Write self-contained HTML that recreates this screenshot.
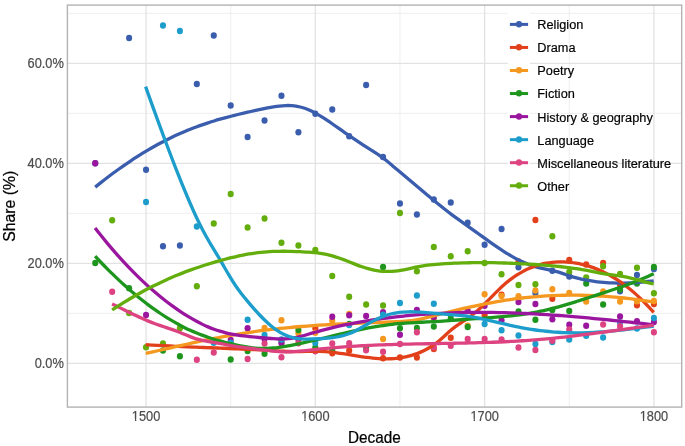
<!DOCTYPE html>
<html><head><meta charset="utf-8"><style>
html,body{margin:0;padding:0;background:#fff;}
svg{display:block;font-family:"Liberation Sans",sans-serif;will-change:transform;}
</style></head><body>
<svg width="685" height="446" viewBox="0 0 685 446">
<rect width="685" height="446" fill="#fff"/>
<line x1="67.4" x2="681.7" y1="313.30" y2="313.30" stroke="#ECECEC" stroke-width="0.9"/>
<line x1="67.4" x2="681.7" y1="213.30" y2="213.30" stroke="#ECECEC" stroke-width="0.9"/>
<line x1="67.4" x2="681.7" y1="113.30" y2="113.30" stroke="#ECECEC" stroke-width="0.9"/>
<line x1="67.4" x2="681.7" y1="13.30" y2="13.30" stroke="#ECECEC" stroke-width="0.9"/>
<line x1="230.69" x2="230.69" y1="5.1" y2="407.1" stroke="#ECECEC" stroke-width="0.9"/>
<line x1="399.98" x2="399.98" y1="5.1" y2="407.1" stroke="#ECECEC" stroke-width="0.9"/>
<line x1="569.26" x2="569.26" y1="5.1" y2="407.1" stroke="#ECECEC" stroke-width="0.9"/>
<line x1="67.4" x2="681.7" y1="363.30" y2="363.30" stroke="#E2E2E2" stroke-width="1.25"/>
<line x1="67.4" x2="681.7" y1="263.30" y2="263.30" stroke="#E2E2E2" stroke-width="1.25"/>
<line x1="67.4" x2="681.7" y1="163.30" y2="163.30" stroke="#E2E2E2" stroke-width="1.25"/>
<line x1="67.4" x2="681.7" y1="63.30" y2="63.30" stroke="#E2E2E2" stroke-width="1.25"/>
<line x1="146.04" x2="146.04" y1="5.1" y2="407.1" stroke="#E2E2E2" stroke-width="1.25"/>
<line x1="315.33" x2="315.33" y1="5.1" y2="407.1" stroke="#E2E2E2" stroke-width="1.25"/>
<line x1="484.62" x2="484.62" y1="5.1" y2="407.1" stroke="#E2E2E2" stroke-width="1.25"/>
<line x1="653.91" x2="653.91" y1="5.1" y2="407.1" stroke="#E2E2E2" stroke-width="1.25"/>
<ellipse cx="95.25" cy="163.3" rx="3.05" ry="3.25" fill="#3A5DAE"/>
<ellipse cx="129.11" cy="38.1" rx="3.05" ry="3.25" fill="#3A5DAE"/>
<ellipse cx="146.04" cy="169.7" rx="3.05" ry="3.25" fill="#3A5DAE"/>
<ellipse cx="162.97" cy="246.3" rx="3.05" ry="3.25" fill="#3A5DAE"/>
<ellipse cx="179.90" cy="245.6" rx="3.05" ry="3.25" fill="#3A5DAE"/>
<ellipse cx="196.83" cy="83.9" rx="3.05" ry="3.25" fill="#3A5DAE"/>
<ellipse cx="213.76" cy="35.4" rx="3.05" ry="3.25" fill="#3A5DAE"/>
<ellipse cx="230.69" cy="105.5" rx="3.05" ry="3.25" fill="#3A5DAE"/>
<ellipse cx="247.61" cy="137.1" rx="3.05" ry="3.25" fill="#3A5DAE"/>
<ellipse cx="264.54" cy="120.5" rx="3.05" ry="3.25" fill="#3A5DAE"/>
<ellipse cx="281.47" cy="95.7" rx="3.05" ry="3.25" fill="#3A5DAE"/>
<ellipse cx="298.40" cy="132.3" rx="3.05" ry="3.25" fill="#3A5DAE"/>
<ellipse cx="315.33" cy="113.8" rx="3.05" ry="3.25" fill="#3A5DAE"/>
<ellipse cx="332.26" cy="109.4" rx="3.05" ry="3.25" fill="#3A5DAE"/>
<ellipse cx="349.19" cy="136.3" rx="3.05" ry="3.25" fill="#3A5DAE"/>
<ellipse cx="366.12" cy="84.9" rx="3.05" ry="3.25" fill="#3A5DAE"/>
<ellipse cx="383.05" cy="157.0" rx="3.05" ry="3.25" fill="#3A5DAE"/>
<ellipse cx="399.98" cy="203.6" rx="3.05" ry="3.25" fill="#3A5DAE"/>
<ellipse cx="416.90" cy="214.4" rx="3.05" ry="3.25" fill="#3A5DAE"/>
<ellipse cx="433.83" cy="199.6" rx="3.05" ry="3.25" fill="#3A5DAE"/>
<ellipse cx="450.76" cy="202.6" rx="3.05" ry="3.25" fill="#3A5DAE"/>
<ellipse cx="467.69" cy="222.7" rx="3.05" ry="3.25" fill="#3A5DAE"/>
<ellipse cx="484.62" cy="244.7" rx="3.05" ry="3.25" fill="#3A5DAE"/>
<ellipse cx="501.55" cy="229.0" rx="3.05" ry="3.25" fill="#3A5DAE"/>
<ellipse cx="518.48" cy="267.2" rx="3.05" ry="3.25" fill="#3A5DAE"/>
<ellipse cx="535.41" cy="293.0" rx="3.05" ry="3.25" fill="#3A5DAE"/>
<ellipse cx="552.34" cy="270.8" rx="3.05" ry="3.25" fill="#3A5DAE"/>
<ellipse cx="569.26" cy="276.6" rx="3.05" ry="3.25" fill="#3A5DAE"/>
<ellipse cx="620.05" cy="291.3" rx="3.05" ry="3.25" fill="#3A5DAE"/>
<ellipse cx="636.98" cy="274.9" rx="3.05" ry="3.25" fill="#3A5DAE"/>
<ellipse cx="653.91" cy="269.1" rx="3.05" ry="3.25" fill="#3A5DAE"/>
<ellipse cx="315.33" cy="328.3" rx="3.05" ry="3.25" fill="#E2401A"/>
<ellipse cx="332.26" cy="353.3" rx="3.05" ry="3.25" fill="#E2401A"/>
<ellipse cx="349.19" cy="350.6" rx="3.05" ry="3.25" fill="#E2401A"/>
<ellipse cx="383.05" cy="358.2" rx="3.05" ry="3.25" fill="#E2401A"/>
<ellipse cx="399.98" cy="357.4" rx="3.05" ry="3.25" fill="#E2401A"/>
<ellipse cx="416.90" cy="357.6" rx="3.05" ry="3.25" fill="#E2401A"/>
<ellipse cx="433.83" cy="349.1" rx="3.05" ry="3.25" fill="#E2401A"/>
<ellipse cx="450.76" cy="337.8" rx="3.05" ry="3.25" fill="#E2401A"/>
<ellipse cx="484.62" cy="315.0" rx="3.05" ry="3.25" fill="#E2401A"/>
<ellipse cx="501.55" cy="294.7" rx="3.05" ry="3.25" fill="#E2401A"/>
<ellipse cx="518.48" cy="261.5" rx="3.05" ry="3.25" fill="#E2401A"/>
<ellipse cx="535.41" cy="220.0" rx="3.05" ry="3.25" fill="#E2401A"/>
<ellipse cx="552.34" cy="298.7" rx="3.05" ry="3.25" fill="#E2401A"/>
<ellipse cx="569.26" cy="260.0" rx="3.05" ry="3.25" fill="#E2401A"/>
<ellipse cx="586.19" cy="264.6" rx="3.05" ry="3.25" fill="#E2401A"/>
<ellipse cx="603.12" cy="262.9" rx="3.05" ry="3.25" fill="#E2401A"/>
<ellipse cx="620.05" cy="285.1" rx="3.05" ry="3.25" fill="#E2401A"/>
<ellipse cx="636.98" cy="305.3" rx="3.05" ry="3.25" fill="#E2401A"/>
<ellipse cx="653.91" cy="304.1" rx="3.05" ry="3.25" fill="#E2401A"/>
<ellipse cx="264.54" cy="328.0" rx="3.05" ry="3.25" fill="#F4981F"/>
<ellipse cx="281.47" cy="320.3" rx="3.05" ry="3.25" fill="#F4981F"/>
<ellipse cx="298.40" cy="333.3" rx="3.05" ry="3.25" fill="#F4981F"/>
<ellipse cx="315.33" cy="332.8" rx="3.05" ry="3.25" fill="#F4981F"/>
<ellipse cx="332.26" cy="320.8" rx="3.05" ry="3.25" fill="#F4981F"/>
<ellipse cx="349.19" cy="313.9" rx="3.05" ry="3.25" fill="#F4981F"/>
<ellipse cx="383.05" cy="339.0" rx="3.05" ry="3.25" fill="#F4981F"/>
<ellipse cx="433.83" cy="318.6" rx="3.05" ry="3.25" fill="#F4981F"/>
<ellipse cx="467.69" cy="325.8" rx="3.05" ry="3.25" fill="#F4981F"/>
<ellipse cx="484.62" cy="294.3" rx="3.05" ry="3.25" fill="#F4981F"/>
<ellipse cx="501.55" cy="296.1" rx="3.05" ry="3.25" fill="#F4981F"/>
<ellipse cx="518.48" cy="296.3" rx="3.05" ry="3.25" fill="#F4981F"/>
<ellipse cx="535.41" cy="290.5" rx="3.05" ry="3.25" fill="#F4981F"/>
<ellipse cx="552.34" cy="289.3" rx="3.05" ry="3.25" fill="#F4981F"/>
<ellipse cx="569.26" cy="292.9" rx="3.05" ry="3.25" fill="#F4981F"/>
<ellipse cx="586.19" cy="301.4" rx="3.05" ry="3.25" fill="#F4981F"/>
<ellipse cx="603.12" cy="291.6" rx="3.05" ry="3.25" fill="#F4981F"/>
<ellipse cx="620.05" cy="301.6" rx="3.05" ry="3.25" fill="#F4981F"/>
<ellipse cx="636.98" cy="301.2" rx="3.05" ry="3.25" fill="#F4981F"/>
<ellipse cx="653.91" cy="300.9" rx="3.05" ry="3.25" fill="#F4981F"/>
<ellipse cx="95.25" cy="263.1" rx="3.05" ry="3.25" fill="#1E961E"/>
<ellipse cx="129.11" cy="288.3" rx="3.05" ry="3.25" fill="#1E961E"/>
<ellipse cx="162.97" cy="350.4" rx="3.05" ry="3.25" fill="#1E961E"/>
<ellipse cx="179.90" cy="356.2" rx="3.05" ry="3.25" fill="#1E961E"/>
<ellipse cx="230.69" cy="359.5" rx="3.05" ry="3.25" fill="#1E961E"/>
<ellipse cx="247.61" cy="351.0" rx="3.05" ry="3.25" fill="#1E961E"/>
<ellipse cx="264.54" cy="353.7" rx="3.05" ry="3.25" fill="#1E961E"/>
<ellipse cx="281.47" cy="341.5" rx="3.05" ry="3.25" fill="#1E961E"/>
<ellipse cx="298.40" cy="329.9" rx="3.05" ry="3.25" fill="#1E961E"/>
<ellipse cx="315.33" cy="347.5" rx="3.05" ry="3.25" fill="#1E961E"/>
<ellipse cx="332.26" cy="350.0" rx="3.05" ry="3.25" fill="#1E961E"/>
<ellipse cx="349.19" cy="323.9" rx="3.05" ry="3.25" fill="#1E961E"/>
<ellipse cx="366.12" cy="347.8" rx="3.05" ry="3.25" fill="#1E961E"/>
<ellipse cx="383.05" cy="267.0" rx="3.05" ry="3.25" fill="#1E961E"/>
<ellipse cx="399.98" cy="328.3" rx="3.05" ry="3.25" fill="#1E961E"/>
<ellipse cx="416.90" cy="327.9" rx="3.05" ry="3.25" fill="#1E961E"/>
<ellipse cx="433.83" cy="326.6" rx="3.05" ry="3.25" fill="#1E961E"/>
<ellipse cx="450.76" cy="318.3" rx="3.05" ry="3.25" fill="#1E961E"/>
<ellipse cx="467.69" cy="327.0" rx="3.05" ry="3.25" fill="#1E961E"/>
<ellipse cx="518.48" cy="311.4" rx="3.05" ry="3.25" fill="#1E961E"/>
<ellipse cx="535.41" cy="319.7" rx="3.05" ry="3.25" fill="#1E961E"/>
<ellipse cx="552.34" cy="309.9" rx="3.05" ry="3.25" fill="#1E961E"/>
<ellipse cx="569.26" cy="310.9" rx="3.05" ry="3.25" fill="#1E961E"/>
<ellipse cx="586.19" cy="283.6" rx="3.05" ry="3.25" fill="#1E961E"/>
<ellipse cx="603.12" cy="304.5" rx="3.05" ry="3.25" fill="#1E961E"/>
<ellipse cx="620.05" cy="289.6" rx="3.05" ry="3.25" fill="#1E961E"/>
<ellipse cx="636.98" cy="283.6" rx="3.05" ry="3.25" fill="#1E961E"/>
<ellipse cx="653.91" cy="267.0" rx="3.05" ry="3.25" fill="#1E961E"/>
<ellipse cx="95.25" cy="163.3" rx="3.05" ry="3.25" fill="#9A169E"/>
<ellipse cx="146.04" cy="314.9" rx="3.05" ry="3.25" fill="#9A169E"/>
<ellipse cx="230.69" cy="339.9" rx="3.05" ry="3.25" fill="#9A169E"/>
<ellipse cx="247.61" cy="328.3" rx="3.05" ry="3.25" fill="#9A169E"/>
<ellipse cx="264.54" cy="339.1" rx="3.05" ry="3.25" fill="#9A169E"/>
<ellipse cx="281.47" cy="343.3" rx="3.05" ry="3.25" fill="#9A169E"/>
<ellipse cx="298.40" cy="339.5" rx="3.05" ry="3.25" fill="#9A169E"/>
<ellipse cx="332.26" cy="316.8" rx="3.05" ry="3.25" fill="#9A169E"/>
<ellipse cx="349.19" cy="315.3" rx="3.05" ry="3.25" fill="#9A169E"/>
<ellipse cx="366.12" cy="316.1" rx="3.05" ry="3.25" fill="#9A169E"/>
<ellipse cx="383.05" cy="312.3" rx="3.05" ry="3.25" fill="#9A169E"/>
<ellipse cx="399.98" cy="334.8" rx="3.05" ry="3.25" fill="#9A169E"/>
<ellipse cx="416.90" cy="309.9" rx="3.05" ry="3.25" fill="#9A169E"/>
<ellipse cx="433.83" cy="317.0" rx="3.05" ry="3.25" fill="#9A169E"/>
<ellipse cx="467.69" cy="310.7" rx="3.05" ry="3.25" fill="#9A169E"/>
<ellipse cx="484.62" cy="305.7" rx="3.05" ry="3.25" fill="#9A169E"/>
<ellipse cx="501.55" cy="320.5" rx="3.05" ry="3.25" fill="#9A169E"/>
<ellipse cx="518.48" cy="301.9" rx="3.05" ry="3.25" fill="#9A169E"/>
<ellipse cx="535.41" cy="304.0" rx="3.05" ry="3.25" fill="#9A169E"/>
<ellipse cx="552.34" cy="319.3" rx="3.05" ry="3.25" fill="#9A169E"/>
<ellipse cx="569.26" cy="324.8" rx="3.05" ry="3.25" fill="#9A169E"/>
<ellipse cx="586.19" cy="325.8" rx="3.05" ry="3.25" fill="#9A169E"/>
<ellipse cx="620.05" cy="316.6" rx="3.05" ry="3.25" fill="#9A169E"/>
<ellipse cx="636.98" cy="321.2" rx="3.05" ry="3.25" fill="#9A169E"/>
<ellipse cx="653.91" cy="322.0" rx="3.05" ry="3.25" fill="#9A169E"/>
<ellipse cx="146.04" cy="201.9" rx="3.05" ry="3.25" fill="#1C9DCB"/>
<ellipse cx="162.97" cy="25.6" rx="3.05" ry="3.25" fill="#1C9DCB"/>
<ellipse cx="179.90" cy="31.1" rx="3.05" ry="3.25" fill="#1C9DCB"/>
<ellipse cx="196.83" cy="226.5" rx="3.05" ry="3.25" fill="#1C9DCB"/>
<ellipse cx="213.76" cy="342.8" rx="3.05" ry="3.25" fill="#1C9DCB"/>
<ellipse cx="230.69" cy="342.8" rx="3.05" ry="3.25" fill="#1C9DCB"/>
<ellipse cx="247.61" cy="319.7" rx="3.05" ry="3.25" fill="#1C9DCB"/>
<ellipse cx="264.54" cy="334.9" rx="3.05" ry="3.25" fill="#1C9DCB"/>
<ellipse cx="281.47" cy="339.5" rx="3.05" ry="3.25" fill="#1C9DCB"/>
<ellipse cx="315.33" cy="342.9" rx="3.05" ry="3.25" fill="#1C9DCB"/>
<ellipse cx="349.19" cy="325.0" rx="3.05" ry="3.25" fill="#1C9DCB"/>
<ellipse cx="383.05" cy="314.7" rx="3.05" ry="3.25" fill="#1C9DCB"/>
<ellipse cx="399.98" cy="302.9" rx="3.05" ry="3.25" fill="#1C9DCB"/>
<ellipse cx="416.90" cy="295.4" rx="3.05" ry="3.25" fill="#1C9DCB"/>
<ellipse cx="433.83" cy="303.7" rx="3.05" ry="3.25" fill="#1C9DCB"/>
<ellipse cx="484.62" cy="324.1" rx="3.05" ry="3.25" fill="#1C9DCB"/>
<ellipse cx="501.55" cy="330.3" rx="3.05" ry="3.25" fill="#1C9DCB"/>
<ellipse cx="518.48" cy="335.4" rx="3.05" ry="3.25" fill="#1C9DCB"/>
<ellipse cx="535.41" cy="344.1" rx="3.05" ry="3.25" fill="#1C9DCB"/>
<ellipse cx="552.34" cy="342.0" rx="3.05" ry="3.25" fill="#1C9DCB"/>
<ellipse cx="569.26" cy="339.5" rx="3.05" ry="3.25" fill="#1C9DCB"/>
<ellipse cx="586.19" cy="335.7" rx="3.05" ry="3.25" fill="#1C9DCB"/>
<ellipse cx="603.12" cy="337.4" rx="3.05" ry="3.25" fill="#1C9DCB"/>
<ellipse cx="620.05" cy="322.4" rx="3.05" ry="3.25" fill="#1C9DCB"/>
<ellipse cx="636.98" cy="328.4" rx="3.05" ry="3.25" fill="#1C9DCB"/>
<ellipse cx="653.91" cy="317.9" rx="3.05" ry="3.25" fill="#1C9DCB"/>
<ellipse cx="112.18" cy="291.8" rx="3.05" ry="3.25" fill="#DC4380"/>
<ellipse cx="196.83" cy="359.7" rx="3.05" ry="3.25" fill="#DC4380"/>
<ellipse cx="213.76" cy="352.5" rx="3.05" ry="3.25" fill="#DC4380"/>
<ellipse cx="247.61" cy="358.9" rx="3.05" ry="3.25" fill="#DC4380"/>
<ellipse cx="264.54" cy="343.5" rx="3.05" ry="3.25" fill="#DC4380"/>
<ellipse cx="281.47" cy="357.2" rx="3.05" ry="3.25" fill="#DC4380"/>
<ellipse cx="298.40" cy="343.2" rx="3.05" ry="3.25" fill="#DC4380"/>
<ellipse cx="315.33" cy="351.2" rx="3.05" ry="3.25" fill="#DC4380"/>
<ellipse cx="332.26" cy="343.5" rx="3.05" ry="3.25" fill="#DC4380"/>
<ellipse cx="349.19" cy="343.3" rx="3.05" ry="3.25" fill="#DC4380"/>
<ellipse cx="366.12" cy="350.3" rx="3.05" ry="3.25" fill="#DC4380"/>
<ellipse cx="383.05" cy="351.7" rx="3.05" ry="3.25" fill="#DC4380"/>
<ellipse cx="399.98" cy="344.1" rx="3.05" ry="3.25" fill="#DC4380"/>
<ellipse cx="416.90" cy="332.3" rx="3.05" ry="3.25" fill="#DC4380"/>
<ellipse cx="433.83" cy="347.3" rx="3.05" ry="3.25" fill="#DC4380"/>
<ellipse cx="450.76" cy="345.7" rx="3.05" ry="3.25" fill="#DC4380"/>
<ellipse cx="467.69" cy="339.0" rx="3.05" ry="3.25" fill="#DC4380"/>
<ellipse cx="484.62" cy="339.0" rx="3.05" ry="3.25" fill="#DC4380"/>
<ellipse cx="501.55" cy="339.5" rx="3.05" ry="3.25" fill="#DC4380"/>
<ellipse cx="518.48" cy="347.4" rx="3.05" ry="3.25" fill="#DC4380"/>
<ellipse cx="535.41" cy="349.9" rx="3.05" ry="3.25" fill="#DC4380"/>
<ellipse cx="552.34" cy="340.7" rx="3.05" ry="3.25" fill="#DC4380"/>
<ellipse cx="569.26" cy="329.6" rx="3.05" ry="3.25" fill="#DC4380"/>
<ellipse cx="603.12" cy="324.5" rx="3.05" ry="3.25" fill="#DC4380"/>
<ellipse cx="620.05" cy="326.2" rx="3.05" ry="3.25" fill="#DC4380"/>
<ellipse cx="653.91" cy="332.2" rx="3.05" ry="3.25" fill="#DC4380"/>
<ellipse cx="112.18" cy="220.3" rx="3.05" ry="3.25" fill="#63AD0C"/>
<ellipse cx="129.11" cy="313.1" rx="3.05" ry="3.25" fill="#63AD0C"/>
<ellipse cx="146.04" cy="347.2" rx="3.05" ry="3.25" fill="#63AD0C"/>
<ellipse cx="162.97" cy="343.4" rx="3.05" ry="3.25" fill="#63AD0C"/>
<ellipse cx="179.90" cy="328.2" rx="3.05" ry="3.25" fill="#63AD0C"/>
<ellipse cx="196.83" cy="286.2" rx="3.05" ry="3.25" fill="#63AD0C"/>
<ellipse cx="213.76" cy="223.5" rx="3.05" ry="3.25" fill="#63AD0C"/>
<ellipse cx="230.69" cy="194.1" rx="3.05" ry="3.25" fill="#63AD0C"/>
<ellipse cx="247.61" cy="227.5" rx="3.05" ry="3.25" fill="#63AD0C"/>
<ellipse cx="264.54" cy="218.5" rx="3.05" ry="3.25" fill="#63AD0C"/>
<ellipse cx="281.47" cy="242.8" rx="3.05" ry="3.25" fill="#63AD0C"/>
<ellipse cx="298.40" cy="245.6" rx="3.05" ry="3.25" fill="#63AD0C"/>
<ellipse cx="315.33" cy="250.1" rx="3.05" ry="3.25" fill="#63AD0C"/>
<ellipse cx="332.26" cy="276.1" rx="3.05" ry="3.25" fill="#63AD0C"/>
<ellipse cx="349.19" cy="296.8" rx="3.05" ry="3.25" fill="#63AD0C"/>
<ellipse cx="366.12" cy="304.5" rx="3.05" ry="3.25" fill="#63AD0C"/>
<ellipse cx="383.05" cy="305.5" rx="3.05" ry="3.25" fill="#63AD0C"/>
<ellipse cx="399.98" cy="212.9" rx="3.05" ry="3.25" fill="#63AD0C"/>
<ellipse cx="416.90" cy="271.2" rx="3.05" ry="3.25" fill="#63AD0C"/>
<ellipse cx="433.83" cy="247.1" rx="3.05" ry="3.25" fill="#63AD0C"/>
<ellipse cx="450.76" cy="256.3" rx="3.05" ry="3.25" fill="#63AD0C"/>
<ellipse cx="467.69" cy="251.3" rx="3.05" ry="3.25" fill="#63AD0C"/>
<ellipse cx="484.62" cy="263.0" rx="3.05" ry="3.25" fill="#63AD0C"/>
<ellipse cx="501.55" cy="274.2" rx="3.05" ry="3.25" fill="#63AD0C"/>
<ellipse cx="518.48" cy="285.1" rx="3.05" ry="3.25" fill="#63AD0C"/>
<ellipse cx="535.41" cy="284.3" rx="3.05" ry="3.25" fill="#63AD0C"/>
<ellipse cx="552.34" cy="236.2" rx="3.05" ry="3.25" fill="#63AD0C"/>
<ellipse cx="569.26" cy="272.0" rx="3.05" ry="3.25" fill="#63AD0C"/>
<ellipse cx="586.19" cy="277.4" rx="3.05" ry="3.25" fill="#63AD0C"/>
<ellipse cx="603.12" cy="266.2" rx="3.05" ry="3.25" fill="#63AD0C"/>
<ellipse cx="620.05" cy="274.0" rx="3.05" ry="3.25" fill="#63AD0C"/>
<ellipse cx="636.98" cy="267.8" rx="3.05" ry="3.25" fill="#63AD0C"/>
<ellipse cx="653.91" cy="293.3" rx="3.05" ry="3.25" fill="#63AD0C"/>
<path d="M95.20,187.15 C97.18,185.53 99.16,183.94 101.14,182.38 C103.12,180.81 105.10,179.27 107.08,177.76 C109.06,176.24 111.04,174.75 113.02,173.29 C115.00,171.82 116.99,170.38 118.97,168.97 C120.95,167.55 122.93,166.16 124.91,164.80 C126.89,163.43 128.87,162.09 130.85,160.78 C132.83,159.47 134.81,158.18 136.79,156.92 C138.77,155.65 140.75,154.42 142.73,153.21 C144.71,152.00 146.69,150.81 148.67,149.65 C150.65,148.50 152.63,147.36 154.61,146.26 C156.60,145.15 158.58,144.07 160.56,143.02 C162.54,141.97 164.52,140.94 166.50,139.94 C168.48,138.94 170.46,137.97 172.44,137.03 C174.42,136.08 176.40,135.16 178.38,134.27 C180.36,133.38 182.34,132.52 184.32,131.68 C186.30,130.84 188.28,130.04 190.26,129.25 C192.24,128.47 194.22,127.71 196.21,126.98 C198.19,126.24 200.17,125.53 202.15,124.85 C204.13,124.16 206.11,123.49 208.09,122.85 C210.07,122.21 212.05,121.58 214.03,120.98 C216.01,120.37 217.99,119.78 219.97,119.21 C221.95,118.64 223.93,118.09 225.91,117.56 C227.89,117.02 229.87,116.50 231.85,115.99 C233.83,115.48 235.82,114.99 237.80,114.51 C239.78,114.02 241.76,113.55 243.74,113.09 C245.72,112.63 247.70,112.19 249.68,111.74 C251.66,111.30 253.64,110.87 255.62,110.45 C257.60,110.02 259.58,109.60 261.56,109.19 C263.54,108.78 265.52,108.36 267.50,107.97 C269.48,107.58 271.46,107.20 273.44,106.87 C275.43,106.54 277.41,106.24 279.39,106.02 C281.37,105.79 283.35,105.62 285.33,105.54 C287.31,105.46 289.29,105.47 291.27,105.58 C293.25,105.70 295.23,105.92 297.21,106.27 C299.19,106.62 301.17,107.10 303.15,107.73 C305.13,108.35 307.11,109.11 309.09,109.99 C311.07,110.86 313.05,111.85 315.04,112.92 C317.02,113.99 319.00,115.15 320.98,116.37 C322.96,117.59 324.94,118.87 326.92,120.20 C328.90,121.52 330.88,122.88 332.86,124.25 C334.84,125.62 336.82,127.00 338.80,128.39 C340.78,129.77 342.76,131.16 344.74,132.54 C346.72,133.92 348.70,135.30 350.68,136.67 C352.66,138.03 354.65,139.39 356.63,140.72 C358.61,142.05 360.59,143.37 362.57,144.66 C364.55,145.94 366.53,147.20 368.51,148.44 C370.49,149.67 372.47,150.88 374.45,152.13 C376.43,153.39 378.41,154.68 380.39,156.07 C382.37,157.46 384.35,158.96 386.33,160.56 C388.31,162.16 390.29,163.84 392.27,165.53 C394.25,167.23 396.24,168.92 398.22,170.60 C400.20,172.28 402.18,173.94 404.16,175.59 C406.14,177.25 408.12,178.90 410.10,180.54 C412.08,182.19 414.06,183.84 416.04,185.49 C418.02,187.15 420.00,188.81 421.98,190.48 C423.96,192.14 425.94,193.81 427.92,195.48 C429.90,197.14 431.88,198.80 433.86,200.45 C435.85,202.09 437.83,203.72 439.81,205.33 C441.79,206.93 443.77,208.51 445.75,210.06 C447.73,211.60 449.71,213.12 451.69,214.59 C453.67,216.05 455.65,217.48 457.63,218.89 C459.61,220.30 461.59,221.69 463.57,223.08 C465.55,224.47 467.53,225.87 469.51,227.29 C471.49,228.71 473.47,230.15 475.46,231.59 C477.44,233.03 479.42,234.48 481.40,235.92 C483.38,237.36 485.36,238.79 487.34,240.21 C489.32,241.63 491.30,243.02 493.28,244.40 C495.26,245.77 497.24,247.12 499.22,248.44 C501.20,249.76 503.18,251.04 505.16,252.28 C507.14,253.52 509.12,254.72 511.10,255.88 C513.08,257.03 515.07,258.13 517.05,259.17 C519.03,260.22 521.01,261.21 522.99,262.12 C524.97,263.04 526.95,263.89 528.93,264.65 C530.91,265.41 532.89,266.09 534.87,266.67 C536.85,267.25 538.83,267.73 540.81,268.15 C542.79,268.57 544.77,268.94 546.75,269.31 C548.73,269.69 550.71,270.08 552.69,270.54 C554.68,271.00 556.66,271.56 558.64,272.18 C560.62,272.80 562.60,273.49 564.58,274.17 C566.56,274.84 568.54,275.52 570.52,276.14 C572.50,276.75 574.48,277.32 576.46,277.85 C578.44,278.37 580.42,278.85 582.40,279.28 C584.38,279.72 586.36,280.11 588.34,280.47 C590.32,280.82 592.30,281.14 594.29,281.41 C596.27,281.69 598.25,281.93 600.23,282.13 C602.21,282.34 604.19,282.51 606.17,282.64 C608.15,282.78 610.13,282.89 612.11,282.96 C614.09,283.03 616.07,283.08 618.05,283.09 C620.03,283.11 622.01,283.09 623.99,283.06 C625.97,283.02 627.95,282.95 629.93,282.86 C631.91,282.77 633.90,282.66 635.88,282.53 C637.86,282.39 639.84,282.24 641.82,282.06 C643.80,281.89 645.78,281.70 647.76,281.49 C649.74,281.27 651.72,281.05 653.70,280.80" fill="none" stroke="#3A5DAE" stroke-width="3.3" stroke-linejoin="round"/>
<path d="M145.70,344.71 C147.69,344.83 149.68,344.95 151.68,345.07 C153.67,345.18 155.66,345.29 157.65,345.40 C159.65,345.51 161.64,345.61 163.63,345.71 C165.62,345.81 167.61,345.91 169.61,346.01 C171.60,346.10 173.59,346.19 175.58,346.29 C177.57,346.38 179.57,346.47 181.56,346.55 C183.55,346.64 185.54,346.72 187.54,346.81 C189.53,346.89 191.52,346.97 193.51,347.05 C195.50,347.14 197.50,347.22 199.49,347.30 C201.48,347.37 203.47,347.45 205.46,347.53 C207.46,347.61 209.45,347.69 211.44,347.77 C213.43,347.85 215.43,347.93 217.42,348.00 C219.41,348.08 221.40,348.16 223.39,348.24 C225.39,348.32 227.38,348.41 229.37,348.49 C231.36,348.57 233.35,348.66 235.35,348.74 C237.34,348.83 239.33,348.91 241.32,349.00 C243.32,349.09 245.31,349.19 247.30,349.28 C249.29,349.37 251.28,349.47 253.28,349.57 C255.27,349.67 257.26,349.77 259.25,349.88 C261.25,349.98 263.24,350.09 265.23,350.20 C267.22,350.32 269.21,350.43 271.21,350.55 C273.20,350.67 275.19,350.79 277.18,350.91 C279.17,351.03 281.17,351.15 283.16,351.25 C285.15,351.35 287.14,351.44 289.14,351.50 C291.13,351.57 293.12,351.61 295.11,351.63 C297.10,351.64 299.10,351.63 301.09,351.59 C303.08,351.56 305.07,351.51 307.06,351.46 C309.06,351.41 311.05,351.36 313.04,351.34 C315.03,351.31 317.03,351.31 319.02,351.34 C321.01,351.37 323.00,351.44 324.99,351.57 C326.99,351.69 328.98,351.86 330.97,352.07 C332.96,352.28 334.95,352.52 336.95,352.79 C338.94,353.06 340.93,353.36 342.92,353.67 C344.92,353.98 346.91,354.30 348.90,354.63 C350.89,354.96 352.88,355.30 354.88,355.63 C356.87,355.95 358.86,356.28 360.85,356.58 C362.85,356.88 364.84,357.17 366.83,357.43 C368.82,357.69 370.81,357.92 372.81,358.12 C374.80,358.31 376.79,358.47 378.78,358.59 C380.77,358.71 382.77,358.79 384.76,358.81 C386.75,358.84 388.74,358.81 390.74,358.73 C392.73,358.65 394.72,358.51 396.71,358.30 C398.70,358.09 400.70,357.82 402.69,357.47 C404.68,357.12 406.67,356.70 408.66,356.20 C410.66,355.69 412.65,355.11 414.64,354.43 C416.63,353.76 418.63,353.00 420.62,352.13 C422.61,351.26 424.60,350.30 426.59,349.21 C428.59,348.12 430.58,346.92 432.57,345.59 C434.56,344.25 436.55,342.79 438.55,341.18 C440.54,339.57 442.53,337.79 444.52,335.97 C446.52,334.16 448.51,332.31 450.50,330.59 C452.49,328.87 454.48,327.31 456.48,325.88 C458.47,324.45 460.46,323.13 462.45,321.82 C464.45,320.51 466.44,319.21 468.43,317.83 C470.42,316.45 472.41,314.98 474.41,313.34 C476.40,311.70 478.39,309.91 480.38,308.02 C482.37,306.14 484.37,304.16 486.36,302.14 C488.35,300.13 490.34,298.07 492.34,296.04 C494.33,294.01 496.32,291.99 498.31,290.06 C500.30,288.12 502.30,286.26 504.29,284.53 C506.28,282.79 508.27,281.17 510.26,279.66 C512.26,278.15 514.25,276.74 516.24,275.44 C518.23,274.15 520.23,272.95 522.22,271.86 C524.21,270.76 526.20,269.77 528.19,268.86 C530.19,267.96 532.18,267.16 534.17,266.44 C536.16,265.73 538.15,265.10 540.15,264.56 C542.14,264.03 544.13,263.57 546.12,263.20 C548.12,262.83 550.11,262.54 552.10,262.32 C554.09,262.11 556.08,261.97 558.08,261.90 C560.07,261.84 562.06,261.84 564.05,261.92 C566.05,261.99 568.04,262.13 570.03,262.33 C572.02,262.54 574.01,262.80 576.01,263.14 C578.00,263.47 579.99,263.86 581.98,264.33 C583.97,264.79 585.97,265.32 587.96,265.92 C589.95,266.52 591.94,267.19 593.94,267.92 C595.93,268.66 597.92,269.47 599.91,270.34 C601.90,271.22 603.90,272.17 605.89,273.19 C607.88,274.21 609.87,275.30 611.86,276.47 C613.86,277.64 615.85,278.88 617.84,280.19 C619.83,281.51 621.83,282.90 623.82,284.37 C625.81,285.84 627.80,287.39 629.79,289.01 C631.79,290.64 633.78,292.34 635.77,294.12 C637.76,295.91 639.75,297.77 641.75,299.72 C643.74,301.66 645.73,303.69 647.72,305.80 C649.72,307.90 651.71,310.10 653.70,312.37" fill="none" stroke="#E2401A" stroke-width="3.3" stroke-linejoin="round"/>
<path d="M145.70,353.44 C147.69,352.99 149.68,352.54 151.68,352.09 C153.67,351.65 155.66,351.20 157.65,350.74 C159.65,350.29 161.64,349.84 163.63,349.39 C165.62,348.94 167.61,348.48 169.61,348.03 C171.60,347.58 173.59,347.13 175.58,346.68 C177.57,346.23 179.57,345.78 181.56,345.34 C183.55,344.90 185.54,344.45 187.54,344.01 C189.53,343.58 191.52,343.14 193.51,342.71 C195.50,342.28 197.50,341.85 199.49,341.43 C201.48,341.01 203.47,340.59 205.46,340.18 C207.46,339.77 209.45,339.36 211.44,338.97 C213.43,338.57 215.43,338.18 217.42,337.79 C219.41,337.41 221.40,337.03 223.39,336.67 C225.39,336.30 227.38,335.94 229.37,335.59 C231.36,335.24 233.35,334.90 235.35,334.56 C237.34,334.23 239.33,333.90 241.32,333.59 C243.32,333.27 245.31,332.96 247.30,332.66 C249.29,332.36 251.28,332.07 253.28,331.79 C255.27,331.50 257.26,331.23 259.25,330.96 C261.25,330.70 263.24,330.44 265.23,330.18 C267.22,329.93 269.21,329.69 271.21,329.46 C273.20,329.22 275.19,328.99 277.18,328.77 C279.17,328.55 281.17,328.34 283.16,328.14 C285.15,327.93 287.14,327.74 289.14,327.55 C291.13,327.36 293.12,327.18 295.11,327.00 C297.10,326.83 299.10,326.66 301.09,326.50 C303.08,326.34 305.07,326.18 307.06,326.04 C309.06,325.89 311.05,325.75 313.04,325.61 C315.03,325.47 317.03,325.34 319.02,325.22 C321.01,325.09 323.00,324.97 324.99,324.85 C326.99,324.74 328.98,324.63 330.97,324.52 C332.96,324.41 334.95,324.31 336.95,324.21 C338.94,324.11 340.93,324.01 342.92,323.92 C344.92,323.82 346.91,323.73 348.90,323.65 C350.89,323.56 352.88,323.47 354.88,323.39 C356.87,323.31 358.86,323.23 360.85,323.15 C362.85,323.07 364.84,322.99 366.83,322.91 C368.82,322.84 370.81,322.76 372.81,322.69 C374.80,322.61 376.79,322.54 378.78,322.46 C380.77,322.39 382.77,322.31 384.76,322.24 C386.75,322.16 388.74,322.09 390.74,322.01 C392.73,321.93 394.72,321.85 396.71,321.76 C398.70,321.66 400.70,321.55 402.69,321.41 C404.68,321.27 406.67,321.10 408.66,320.89 C410.66,320.68 412.65,320.42 414.64,320.11 C416.63,319.80 418.63,319.43 420.62,319.02 C422.61,318.61 424.60,318.15 426.59,317.67 C428.59,317.19 430.58,316.68 432.57,316.16 C434.56,315.64 436.55,315.11 438.55,314.57 C440.54,314.04 442.53,313.51 444.52,313.00 C446.52,312.48 448.51,311.98 450.50,311.49 C452.49,311.00 454.48,310.52 456.48,310.06 C458.47,309.59 460.46,309.13 462.45,308.68 C464.45,308.23 466.44,307.78 468.43,307.34 C470.42,306.91 472.41,306.48 474.41,306.06 C476.40,305.63 478.39,305.22 480.38,304.82 C482.37,304.41 484.37,304.02 486.36,303.63 C488.35,303.25 490.34,302.87 492.34,302.51 C494.33,302.15 496.32,301.80 498.31,301.45 C500.30,301.11 502.30,300.79 504.29,300.47 C506.28,300.16 508.27,299.85 510.26,299.56 C512.26,299.28 514.25,299.00 516.24,298.74 C518.23,298.48 520.23,298.24 522.22,298.01 C524.21,297.77 526.20,297.56 528.19,297.36 C530.19,297.15 532.18,296.97 534.17,296.79 C536.16,296.62 538.15,296.46 540.15,296.31 C542.14,296.17 544.13,296.04 546.12,295.92 C548.12,295.80 550.11,295.70 552.10,295.61 C554.09,295.52 556.08,295.44 558.08,295.38 C560.07,295.31 562.06,295.27 564.05,295.23 C566.05,295.19 568.04,295.17 570.03,295.16 C572.02,295.15 574.01,295.16 576.01,295.17 C578.00,295.19 579.99,295.22 581.98,295.26 C583.97,295.30 585.97,295.36 587.96,295.43 C589.95,295.50 591.94,295.58 593.94,295.67 C595.93,295.77 597.92,295.87 599.91,295.99 C601.90,296.11 603.90,296.24 605.89,296.39 C607.88,296.53 609.87,296.69 611.86,296.86 C613.86,297.02 615.85,297.20 617.84,297.40 C619.83,297.59 621.83,297.79 623.82,298.01 C625.81,298.23 627.80,298.46 629.79,298.70 C631.79,298.94 633.78,299.19 635.77,299.45 C637.76,299.71 639.75,299.99 641.75,300.28 C643.74,300.56 645.73,300.86 647.72,301.17 C649.72,301.48 651.71,301.80 653.70,302.13" fill="none" stroke="#F4981F" stroke-width="3.3" stroke-linejoin="round"/>
<path d="M95.10,256.24 C97.08,258.36 99.06,260.45 101.04,262.51 C103.02,264.56 105.00,266.59 106.99,268.58 C108.97,270.57 110.95,272.52 112.93,274.44 C114.91,276.36 116.89,278.24 118.87,280.09 C120.85,281.94 122.83,283.76 124.81,285.54 C126.79,287.31 128.77,289.06 130.76,290.76 C132.74,292.47 134.72,294.14 136.70,295.77 C138.68,297.40 140.66,298.99 142.64,300.55 C144.62,302.10 146.60,303.62 148.58,305.10 C150.56,306.58 152.54,308.02 154.53,309.42 C156.51,310.82 158.49,312.18 160.47,313.50 C162.45,314.82 164.43,316.11 166.41,317.35 C168.39,318.59 170.37,319.79 172.35,320.95 C174.33,322.10 176.31,323.22 178.30,324.30 C180.28,325.37 182.26,326.41 184.24,327.40 C186.22,328.39 188.20,329.33 190.18,330.24 C192.16,331.14 194.14,332.01 196.12,332.83 C198.10,333.65 200.09,334.43 202.07,335.17 C204.05,335.92 206.03,336.63 208.01,337.30 C209.99,337.97 211.97,338.61 213.95,339.22 C215.93,339.83 217.91,340.41 219.89,340.96 C221.87,341.51 223.86,342.03 225.84,342.53 C227.82,343.03 229.80,343.51 231.78,343.96 C233.76,344.41 235.74,344.84 237.72,345.26 C239.70,345.67 241.68,346.05 243.66,346.41 C245.64,346.76 247.63,347.08 249.61,347.36 C251.59,347.64 253.57,347.87 255.55,348.05 C257.53,348.23 259.51,348.35 261.49,348.41 C263.47,348.48 265.45,348.47 267.43,348.40 C269.41,348.33 271.40,348.19 273.38,348.00 C275.36,347.82 277.34,347.58 279.32,347.30 C281.30,347.02 283.28,346.71 285.26,346.37 C287.24,346.02 289.22,345.66 291.20,345.28 C293.19,344.90 295.17,344.50 297.15,344.09 C299.13,343.68 301.11,343.26 303.09,342.83 C305.07,342.40 307.05,341.96 309.03,341.51 C311.01,341.06 312.99,340.60 314.97,340.13 C316.96,339.67 318.94,339.20 320.92,338.73 C322.90,338.25 324.88,337.78 326.86,337.30 C328.84,336.82 330.82,336.34 332.80,335.87 C334.78,335.39 336.76,334.91 338.74,334.44 C340.73,333.97 342.71,333.50 344.69,333.04 C346.67,332.58 348.65,332.12 350.63,331.67 C352.61,331.22 354.59,330.79 356.57,330.36 C358.55,329.93 360.53,329.51 362.51,329.11 C364.50,328.70 366.48,328.31 368.46,327.93 C370.44,327.56 372.42,327.20 374.40,326.85 C376.38,326.51 378.36,326.18 380.34,325.88 C382.32,325.57 384.30,325.29 386.29,325.03 C388.27,324.77 390.25,324.53 392.23,324.31 C394.21,324.09 396.19,323.90 398.17,323.73 C400.15,323.55 402.13,323.39 404.11,323.25 C406.09,323.11 408.07,322.98 410.06,322.86 C412.04,322.74 414.02,322.63 416.00,322.53 C417.98,322.43 419.96,322.33 421.94,322.23 C423.92,322.14 425.90,322.04 427.88,321.94 C429.86,321.85 431.84,321.75 433.83,321.64 C435.81,321.53 437.79,321.42 439.77,321.29 C441.75,321.17 443.73,321.03 445.71,320.89 C447.69,320.75 449.67,320.59 451.65,320.44 C453.63,320.29 455.61,320.13 457.60,319.98 C459.58,319.82 461.56,319.67 463.54,319.52 C465.52,319.37 467.50,319.23 469.48,319.09 C471.46,318.95 473.44,318.82 475.42,318.69 C477.40,318.55 479.39,318.42 481.37,318.29 C483.35,318.16 485.33,318.02 487.31,317.88 C489.29,317.74 491.27,317.60 493.25,317.45 C495.23,317.30 497.21,317.14 499.19,316.97 C501.17,316.80 503.16,316.62 505.14,316.43 C507.12,316.24 509.10,316.04 511.08,315.82 C513.06,315.60 515.04,315.37 517.02,315.12 C519.00,314.88 520.98,314.61 522.96,314.33 C524.94,314.04 526.93,313.74 528.91,313.41 C530.89,313.09 532.87,312.74 534.85,312.37 C536.83,312.01 538.81,311.61 540.79,311.19 C542.77,310.77 544.75,310.33 546.73,309.86 C548.71,309.39 550.70,308.90 552.68,308.39 C554.66,307.88 556.64,307.35 558.62,306.81 C560.60,306.26 562.58,305.70 564.56,305.12 C566.54,304.55 568.52,303.96 570.50,303.36 C572.49,302.76 574.47,302.14 576.45,301.52 C578.43,300.90 580.41,300.28 582.39,299.64 C584.37,299.01 586.35,298.37 588.33,297.74 C590.31,297.10 592.29,296.45 594.27,295.81 C596.26,295.17 598.24,294.53 600.22,293.89 C602.20,293.26 604.18,292.62 606.16,291.97 C608.14,291.33 610.12,290.68 612.10,290.02 C614.08,289.36 616.06,288.69 618.04,288.02 C620.03,287.34 622.01,286.65 623.99,285.94 C625.97,285.23 627.95,284.51 629.93,283.77 C631.91,283.03 633.89,282.27 635.87,281.48 C637.85,280.70 639.83,279.89 641.81,279.06 C643.80,278.22 645.78,277.36 647.76,276.47 C649.74,275.57 651.72,274.65 653.70,273.69" fill="none" stroke="#1E961E" stroke-width="3.3" stroke-linejoin="round"/>
<path d="M95.10,227.91 C97.08,230.49 99.06,233.03 101.04,235.52 C103.02,238.00 105.00,240.45 106.99,242.84 C108.97,245.24 110.95,247.59 112.93,249.90 C114.91,252.21 116.89,254.47 118.87,256.68 C120.85,258.90 122.83,261.07 124.81,263.20 C126.79,265.33 128.77,267.41 130.76,269.45 C132.74,271.49 134.72,273.48 136.70,275.43 C138.68,277.38 140.66,279.29 142.64,281.15 C144.62,283.02 146.60,284.84 148.58,286.62 C150.56,288.39 152.54,290.13 154.53,291.82 C156.51,293.51 158.49,295.16 160.47,296.76 C162.45,298.37 164.43,299.93 166.41,301.46 C168.39,302.98 170.37,304.46 172.35,305.89 C174.33,307.33 176.31,308.73 178.30,310.08 C180.28,311.44 182.26,312.75 184.24,314.02 C186.22,315.29 188.20,316.51 190.18,317.69 C192.16,318.87 194.14,320.00 196.12,321.07 C198.10,322.15 200.09,323.17 202.07,324.14 C204.05,325.10 206.03,326.01 208.01,326.86 C209.99,327.71 211.97,328.49 213.95,329.22 C215.93,329.94 217.91,330.59 219.89,331.18 C221.87,331.78 223.86,332.31 225.84,332.79 C227.82,333.28 229.80,333.71 231.78,334.10 C233.76,334.49 235.74,334.83 237.72,335.14 C239.70,335.45 241.68,335.73 243.66,335.98 C245.64,336.23 247.63,336.45 249.61,336.66 C251.59,336.86 253.57,337.05 255.55,337.23 C257.53,337.41 259.51,337.58 261.49,337.74 C263.47,337.91 265.45,338.08 267.43,338.25 C269.41,338.42 271.40,338.58 273.38,338.71 C275.36,338.84 277.34,338.93 279.32,338.98 C281.30,339.02 283.28,339.00 285.26,338.91 C287.24,338.81 289.22,338.63 291.20,338.35 C293.19,338.07 295.17,337.69 297.15,337.25 C299.13,336.81 301.11,336.30 303.09,335.76 C305.07,335.21 307.05,334.63 309.03,334.04 C311.01,333.45 312.99,332.85 314.97,332.27 C316.96,331.69 318.94,331.14 320.92,330.60 C322.90,330.06 324.88,329.54 326.86,329.03 C328.84,328.53 330.82,328.05 332.80,327.58 C334.78,327.11 336.76,326.66 338.74,326.22 C340.73,325.78 342.71,325.36 344.69,324.95 C346.67,324.54 348.65,324.15 350.63,323.77 C352.61,323.39 354.59,323.02 356.57,322.66 C358.55,322.31 360.53,321.96 362.51,321.63 C364.50,321.29 366.48,320.97 368.46,320.66 C370.44,320.34 372.42,320.04 374.40,319.74 C376.38,319.45 378.36,319.16 380.34,318.89 C382.32,318.61 384.30,318.35 386.29,318.09 C388.27,317.83 390.25,317.59 392.23,317.35 C394.21,317.11 396.19,316.88 398.17,316.66 C400.15,316.44 402.13,316.23 404.11,316.03 C406.09,315.83 408.07,315.64 410.06,315.45 C412.04,315.27 414.02,315.09 416.00,314.93 C417.98,314.76 419.96,314.60 421.94,314.45 C423.92,314.30 425.90,314.16 427.88,314.03 C429.86,313.90 431.84,313.77 433.83,313.66 C435.81,313.54 437.79,313.43 439.77,313.33 C441.75,313.23 443.73,313.14 445.71,313.05 C447.69,312.97 449.67,312.89 451.65,312.82 C453.63,312.75 455.61,312.69 457.60,312.64 C459.58,312.58 461.56,312.54 463.54,312.50 C465.52,312.46 467.50,312.43 469.48,312.40 C471.46,312.38 473.44,312.36 475.42,312.35 C477.40,312.34 479.39,312.34 481.37,312.34 C483.35,312.34 485.33,312.35 487.31,312.37 C489.29,312.39 491.27,312.41 493.25,312.44 C495.23,312.47 497.21,312.51 499.19,312.55 C501.17,312.59 503.16,312.64 505.14,312.70 C507.12,312.75 509.10,312.81 511.08,312.88 C513.06,312.95 515.04,313.02 517.02,313.10 C519.00,313.18 520.98,313.26 522.96,313.35 C524.94,313.44 526.93,313.53 528.91,313.63 C530.89,313.73 532.87,313.84 534.85,313.95 C536.83,314.06 538.81,314.18 540.79,314.30 C542.77,314.42 544.75,314.54 546.73,314.67 C548.71,314.80 550.70,314.93 552.68,315.07 C554.66,315.21 556.64,315.35 558.62,315.50 C560.60,315.65 562.58,315.80 564.56,315.95 C566.54,316.10 568.52,316.26 570.50,316.43 C572.49,316.59 574.47,316.75 576.45,316.92 C578.43,317.09 580.41,317.26 582.39,317.44 C584.37,317.62 586.35,317.80 588.33,317.98 C590.31,318.16 592.29,318.34 594.27,318.53 C596.26,318.72 598.24,318.91 600.22,319.10 C602.20,319.30 604.18,319.49 606.16,319.69 C608.14,319.89 610.12,320.09 612.10,320.29 C614.08,320.49 616.06,320.70 618.04,320.91 C620.03,321.11 622.01,321.32 623.99,321.53 C625.97,321.74 627.95,321.95 629.93,322.17 C631.91,322.38 633.89,322.60 635.87,322.81 C637.85,323.03 639.83,323.25 641.81,323.46 C643.80,323.68 645.78,323.90 647.76,324.12 C649.74,324.34 651.72,324.56 653.70,324.79" fill="none" stroke="#9A169E" stroke-width="3.3" stroke-linejoin="round"/>
<path d="M145.60,86.61 C147.59,92.20 149.59,97.78 151.58,103.32 C153.57,108.87 155.56,114.38 157.56,119.85 C159.55,125.32 161.54,130.75 163.53,136.12 C165.53,141.48 167.52,146.80 169.51,152.04 C171.50,157.28 173.50,162.46 175.49,167.55 C177.48,172.64 179.47,177.65 181.47,182.56 C183.46,187.47 185.45,192.29 187.44,197.00 C189.44,201.71 191.43,206.32 193.42,210.77 C195.41,215.22 197.41,219.51 199.40,223.58 C201.39,227.64 203.38,231.46 205.38,235.05 C207.37,238.64 209.36,242.03 211.35,245.35 C213.35,248.67 215.34,251.91 217.33,255.21 C219.32,258.51 221.32,261.89 223.31,265.35 C225.30,268.81 227.29,272.30 229.29,275.67 C231.28,279.05 233.27,282.29 235.26,285.26 C237.26,288.22 239.25,290.91 241.24,293.47 C243.23,296.02 245.23,298.45 247.22,300.85 C249.21,303.26 251.21,305.61 253.20,307.89 C255.19,310.17 257.18,312.38 259.18,314.50 C261.17,316.61 263.16,318.64 265.15,320.54 C267.15,322.45 269.14,324.24 271.13,325.90 C273.12,327.55 275.12,329.07 277.11,330.43 C279.10,331.79 281.09,333.00 283.09,334.02 C285.08,335.04 287.07,335.88 289.06,336.55 C291.06,337.21 293.05,337.71 295.04,338.08 C297.03,338.45 299.03,338.69 301.02,338.84 C303.01,339.00 305.00,339.06 307.00,339.06 C308.99,339.07 310.98,339.02 312.97,338.96 C314.97,338.90 316.96,338.83 318.95,338.74 C320.94,338.66 322.94,338.56 324.93,338.42 C326.92,338.28 328.91,338.11 330.91,337.88 C332.90,337.65 334.89,337.36 336.88,337.00 C338.88,336.63 340.87,336.19 342.86,335.66 C344.85,335.12 346.85,334.49 348.84,333.75 C350.83,333.00 352.83,332.13 354.82,331.15 C356.81,330.17 358.80,329.08 360.80,327.96 C362.79,326.83 364.78,325.66 366.77,324.51 C368.77,323.35 370.76,322.22 372.75,321.16 C374.74,320.10 376.74,319.12 378.73,318.23 C380.72,317.34 382.71,316.54 384.71,315.84 C386.70,315.13 388.69,314.52 390.68,314.01 C392.68,313.51 394.67,313.10 396.66,312.78 C398.65,312.46 400.65,312.23 402.64,312.06 C404.63,311.90 406.62,311.81 408.62,311.78 C410.61,311.74 412.60,311.77 414.59,311.83 C416.59,311.90 418.58,312.01 420.57,312.14 C422.56,312.28 424.56,312.44 426.55,312.62 C428.54,312.80 430.53,312.99 432.53,313.18 C434.52,313.37 436.51,313.56 438.50,313.74 C440.50,313.91 442.49,314.07 444.48,314.21 C446.47,314.36 448.47,314.49 450.46,314.63 C452.45,314.78 454.45,314.92 456.44,315.09 C458.43,315.26 460.42,315.44 462.42,315.66 C464.41,315.88 466.40,316.14 468.39,316.43 C470.39,316.72 472.38,317.05 474.37,317.40 C476.36,317.76 478.36,318.14 480.35,318.55 C482.34,318.95 484.33,319.38 486.33,319.82 C488.32,320.26 490.31,320.71 492.30,321.17 C494.30,321.64 496.29,322.10 498.28,322.57 C500.27,323.04 502.27,323.51 504.26,323.97 C506.25,324.43 508.24,324.89 510.24,325.33 C512.23,325.77 514.22,326.20 516.21,326.61 C518.21,327.02 520.20,327.40 522.19,327.77 C524.18,328.14 526.18,328.49 528.17,328.82 C530.16,329.15 532.15,329.46 534.15,329.75 C536.14,330.04 538.13,330.31 540.12,330.56 C542.12,330.81 544.11,331.04 546.10,331.25 C548.09,331.46 550.09,331.65 552.08,331.82 C554.07,331.98 556.07,332.13 558.06,332.26 C560.05,332.39 562.04,332.49 564.04,332.58 C566.03,332.66 568.02,332.73 570.01,332.77 C572.01,332.81 574.00,332.83 575.99,332.83 C577.98,332.84 579.98,332.82 581.97,332.78 C583.96,332.75 585.95,332.69 587.95,332.62 C589.94,332.55 591.93,332.46 593.92,332.36 C595.92,332.26 597.91,332.14 599.90,332.00 C601.89,331.87 603.89,331.73 605.88,331.57 C607.87,331.41 609.86,331.24 611.86,331.06 C613.85,330.87 615.84,330.68 617.83,330.48 C619.83,330.28 621.82,330.06 623.81,329.84 C625.80,329.62 627.80,329.39 629.79,329.16 C631.78,328.92 633.77,328.68 635.77,328.43 C637.76,328.19 639.75,327.93 641.74,327.68 C643.74,327.42 645.73,327.16 647.72,326.90 C649.71,326.64 651.71,326.37 653.70,326.11" fill="none" stroke="#1C9DCB" stroke-width="3.3" stroke-linejoin="round"/>
<path d="M112.10,303.98 C114.08,304.93 116.07,305.89 118.05,306.87 C120.04,307.84 122.02,308.82 124.00,309.80 C125.99,310.78 127.97,311.76 129.95,312.73 C131.94,313.70 133.92,314.65 135.91,315.59 C137.89,316.53 139.87,317.44 141.86,318.33 C143.84,319.22 145.83,320.07 147.81,320.89 C149.79,321.70 151.78,322.48 153.76,323.21 C155.75,323.95 157.73,324.65 159.71,325.34 C161.70,326.03 163.68,326.70 165.66,327.38 C167.65,328.05 169.63,328.72 171.62,329.41 C173.60,330.10 175.58,330.81 177.57,331.55 C179.55,332.30 181.54,333.08 183.52,333.90 C185.50,334.72 187.49,335.58 189.47,336.39 C191.46,337.20 193.44,337.96 195.42,338.59 C197.41,339.23 199.39,339.74 201.37,340.17 C203.36,340.61 205.34,340.97 207.33,341.31 C209.31,341.64 211.29,341.94 213.28,342.26 C215.26,342.59 217.25,342.93 219.23,343.30 C221.21,343.67 223.20,344.06 225.18,344.44 C227.17,344.82 229.15,345.20 231.13,345.55 C233.12,345.90 235.10,346.23 237.08,346.51 C239.07,346.80 241.05,347.05 243.04,347.30 C245.02,347.56 247.00,347.82 248.99,348.09 C250.97,348.36 252.96,348.64 254.94,348.91 C256.92,349.18 258.91,349.45 260.89,349.71 C262.88,349.97 264.86,350.22 266.84,350.45 C268.83,350.68 270.81,350.89 272.79,351.07 C274.78,351.25 276.76,351.41 278.75,351.53 C280.73,351.65 282.71,351.74 284.70,351.78 C286.68,351.82 288.67,351.81 290.65,351.76 C292.63,351.70 294.62,351.60 296.60,351.46 C298.58,351.32 300.57,351.14 302.55,350.95 C304.54,350.75 306.52,350.53 308.50,350.31 C310.49,350.08 312.47,349.85 314.46,349.62 C316.44,349.40 318.42,349.18 320.41,348.97 C322.39,348.76 324.38,348.57 326.36,348.37 C328.34,348.18 330.33,348.00 332.31,347.83 C334.29,347.65 336.28,347.49 338.26,347.33 C340.25,347.17 342.23,347.02 344.21,346.87 C346.20,346.73 348.18,346.59 350.17,346.46 C352.15,346.33 354.13,346.21 356.12,346.09 C358.10,345.97 360.09,345.86 362.07,345.75 C364.05,345.65 366.04,345.55 368.02,345.45 C370.00,345.36 371.99,345.27 373.97,345.18 C375.96,345.10 377.94,345.02 379.92,344.94 C381.91,344.87 383.89,344.79 385.88,344.73 C387.86,344.66 389.84,344.60 391.83,344.54 C393.81,344.48 395.80,344.42 397.78,344.37 C399.76,344.31 401.75,344.26 403.73,344.21 C405.71,344.16 407.70,344.12 409.68,344.08 C411.67,344.03 413.65,343.99 415.63,343.95 C417.62,343.91 419.60,343.87 421.59,343.84 C423.57,343.80 425.55,343.76 427.54,343.73 C429.52,343.69 431.51,343.66 433.49,343.62 C435.47,343.59 437.46,343.56 439.44,343.52 C441.42,343.49 443.41,343.45 445.39,343.42 C447.38,343.38 449.36,343.35 451.34,343.31 C453.33,343.28 455.31,343.24 457.30,343.20 C459.28,343.16 461.26,343.12 463.25,343.08 C465.23,343.03 467.22,342.99 469.20,342.94 C471.18,342.89 473.17,342.85 475.15,342.79 C477.13,342.74 479.12,342.68 481.10,342.63 C483.09,342.57 485.07,342.51 487.05,342.44 C489.04,342.37 491.02,342.30 493.01,342.23 C494.99,342.16 496.97,342.08 498.96,341.99 C500.94,341.91 502.92,341.82 504.91,341.73 C506.89,341.64 508.88,341.54 510.86,341.44 C512.84,341.33 514.83,341.22 516.81,341.11 C518.80,340.99 520.78,340.87 522.76,340.74 C524.75,340.62 526.73,340.48 528.72,340.34 C530.70,340.20 532.68,340.05 534.67,339.89 C536.65,339.74 538.63,339.57 540.62,339.40 C542.60,339.23 544.59,339.05 546.57,338.87 C548.55,338.68 550.54,338.49 552.52,338.29 C554.51,338.09 556.49,337.88 558.47,337.67 C560.46,337.46 562.44,337.24 564.43,337.02 C566.41,336.79 568.39,336.56 570.38,336.33 C572.36,336.10 574.34,335.86 576.33,335.61 C578.31,335.37 580.30,335.12 582.28,334.87 C584.26,334.62 586.25,334.37 588.23,334.11 C590.22,333.86 592.20,333.60 594.18,333.34 C596.17,333.07 598.15,332.81 600.14,332.54 C602.12,332.28 604.10,332.01 606.09,331.74 C608.07,331.47 610.05,331.20 612.04,330.93 C614.02,330.66 616.01,330.39 617.99,330.12 C619.97,329.85 621.96,329.58 623.94,329.31 C625.93,329.04 627.91,328.77 629.89,328.49 C631.88,328.22 633.86,327.95 635.85,327.68 C637.83,327.41 639.81,327.13 641.80,326.86 C643.78,326.58 645.76,326.31 647.75,326.03 C649.73,325.75 651.72,325.47 653.70,325.18" fill="none" stroke="#DC4380" stroke-width="3.3" stroke-linejoin="round"/>
<path d="M112.10,309.95 C114.08,308.62 116.07,307.33 118.05,306.05 C120.04,304.78 122.02,303.53 124.00,302.31 C125.99,301.09 127.97,299.89 129.95,298.72 C131.94,297.54 133.92,296.39 135.91,295.27 C137.89,294.14 139.87,293.04 141.86,291.96 C143.84,290.89 145.83,289.83 147.81,288.80 C149.79,287.77 151.78,286.76 153.76,285.78 C155.75,284.79 157.73,283.83 159.71,282.89 C161.70,281.95 163.68,281.03 165.66,280.14 C167.65,279.24 169.63,278.37 171.62,277.52 C173.60,276.67 175.58,275.83 177.57,275.03 C179.55,274.22 181.54,273.43 183.52,272.66 C185.50,271.89 187.49,271.14 189.47,270.42 C191.46,269.69 193.44,268.98 195.42,268.29 C197.41,267.60 199.39,266.92 201.37,266.27 C203.36,265.62 205.34,264.98 207.33,264.36 C209.31,263.74 211.29,263.14 213.28,262.55 C215.26,261.97 217.25,261.40 219.23,260.84 C221.21,260.29 223.20,259.75 225.18,259.23 C227.17,258.70 229.15,258.19 231.13,257.71 C233.12,257.22 235.10,256.75 237.08,256.31 C239.07,255.86 241.05,255.44 243.04,255.05 C245.02,254.65 247.00,254.28 248.99,253.95 C250.97,253.61 252.96,253.30 254.94,253.02 C256.92,252.75 258.91,252.51 260.89,252.30 C262.88,252.09 264.86,251.92 266.84,251.79 C268.83,251.65 270.81,251.54 272.79,251.46 C274.78,251.38 276.76,251.33 278.75,251.30 C280.73,251.27 282.71,251.26 284.70,251.27 C286.68,251.29 288.67,251.32 290.65,251.37 C292.63,251.41 294.62,251.47 296.60,251.55 C298.58,251.62 300.57,251.70 302.55,251.79 C304.54,251.88 306.52,251.98 308.50,252.11 C310.49,252.23 312.47,252.38 314.46,252.57 C316.44,252.75 318.42,252.98 320.41,253.27 C322.39,253.56 324.38,253.90 326.36,254.31 C328.34,254.73 330.33,255.22 332.31,255.79 C334.29,256.37 336.28,257.01 338.26,257.71 C340.25,258.40 342.23,259.14 344.21,259.91 C346.20,260.68 348.18,261.47 350.17,262.26 C352.15,263.05 354.13,263.84 356.12,264.60 C358.10,265.37 360.09,266.11 362.07,266.80 C364.05,267.48 366.04,268.12 368.02,268.69 C370.00,269.25 371.99,269.74 373.97,270.13 C375.96,270.52 377.94,270.82 379.92,271.04 C381.91,271.25 383.89,271.38 385.88,271.43 C387.86,271.48 389.84,271.45 391.83,271.34 C393.81,271.22 395.80,271.04 397.78,270.78 C399.76,270.52 401.75,270.18 403.73,269.80 C405.71,269.41 407.70,268.97 409.68,268.53 C411.67,268.09 413.65,267.64 415.63,267.22 C417.62,266.80 419.60,266.42 421.59,266.09 C423.57,265.76 425.55,265.48 427.54,265.23 C429.52,264.98 431.51,264.77 433.49,264.58 C435.47,264.39 437.46,264.23 439.44,264.08 C441.42,263.94 443.41,263.80 445.39,263.68 C447.38,263.56 449.36,263.45 451.34,263.35 C453.33,263.25 455.31,263.16 457.30,263.08 C459.28,263.00 461.26,262.93 463.25,262.87 C465.23,262.82 467.22,262.77 469.20,262.73 C471.18,262.69 473.17,262.66 475.15,262.64 C477.13,262.62 479.12,262.61 481.10,262.61 C483.09,262.61 485.07,262.62 487.05,262.63 C489.04,262.65 491.02,262.68 493.01,262.71 C494.99,262.74 496.97,262.78 498.96,262.83 C500.94,262.88 502.92,262.94 504.91,263.01 C506.89,263.07 508.88,263.15 510.86,263.23 C512.84,263.31 514.83,263.39 516.81,263.49 C518.80,263.58 520.78,263.68 522.76,263.79 C524.75,263.90 526.73,264.01 528.72,264.13 C530.70,264.25 532.68,264.38 534.67,264.51 C536.65,264.64 538.63,264.78 540.62,264.93 C542.60,265.07 544.59,265.22 546.57,265.38 C548.55,265.55 550.54,265.72 552.52,265.90 C554.51,266.08 556.49,266.27 558.47,266.47 C560.46,266.68 562.44,266.90 564.43,267.13 C566.41,267.36 568.39,267.61 570.38,267.87 C572.36,268.13 574.34,268.41 576.33,268.71 C578.31,269.01 580.30,269.32 582.28,269.66 C584.26,270.00 586.25,270.35 588.23,270.73 C590.22,271.11 592.20,271.52 594.18,271.92 C596.17,272.33 598.15,272.74 600.14,273.11 C602.12,273.49 604.10,273.83 606.09,274.11 C608.07,274.39 610.05,274.62 612.04,274.85 C614.02,275.08 616.01,275.31 617.99,275.58 C619.97,275.86 621.96,276.20 623.94,276.59 C625.93,276.98 627.91,277.43 629.89,277.91 C631.88,278.39 633.86,278.90 635.85,279.43 C637.83,279.96 639.81,280.50 641.80,281.04 C643.78,281.57 645.76,282.11 647.75,282.61 C649.73,283.11 651.72,283.58 653.70,283.93" fill="none" stroke="#63AD0C" stroke-width="3.3" stroke-linejoin="round"/>
<rect x="67.4" y="5.1" width="614.30" height="402.00" fill="none" stroke="#B3B3B3" stroke-width="1.4"/>
<rect x="507.8" y="12.07" width="22.20" height="24.25" fill="#fff"/>
<line x1="509.9" x2="528.1" y1="24.40" y2="24.40" stroke="#3A5DAE" stroke-width="3.0"/>
<ellipse cx="519" cy="24.20" rx="3.05" ry="3.25" fill="#3A5DAE"/>
<text transform="translate(537.3,29.30) scale(1,1.04)" font-family="Liberation Sans" font-size="12.75" fill="#000" stroke="#000" stroke-width="0.18">Religion</text>
<rect x="507.8" y="35.12" width="22.20" height="24.25" fill="#fff"/>
<line x1="509.9" x2="528.1" y1="47.45" y2="47.45" stroke="#E2401A" stroke-width="3.0"/>
<ellipse cx="519" cy="47.25" rx="3.05" ry="3.25" fill="#E2401A"/>
<text transform="translate(537.3,52.35) scale(1,1.04)" font-family="Liberation Sans" font-size="12.75" fill="#000" stroke="#000" stroke-width="0.18">Drama</text>
<rect x="507.8" y="58.17" width="22.20" height="24.25" fill="#fff"/>
<line x1="509.9" x2="528.1" y1="70.50" y2="70.50" stroke="#F4981F" stroke-width="3.0"/>
<ellipse cx="519" cy="70.30" rx="3.05" ry="3.25" fill="#F4981F"/>
<text transform="translate(537.3,75.40) scale(1,1.04)" font-family="Liberation Sans" font-size="12.75" fill="#000" stroke="#000" stroke-width="0.18">Poetry</text>
<rect x="507.8" y="81.23" width="22.20" height="24.25" fill="#fff"/>
<line x1="509.9" x2="528.1" y1="93.55" y2="93.55" stroke="#1E961E" stroke-width="3.0"/>
<ellipse cx="519" cy="93.35" rx="3.05" ry="3.25" fill="#1E961E"/>
<text transform="translate(537.3,98.45) scale(1,1.04)" font-family="Liberation Sans" font-size="12.75" fill="#000" stroke="#000" stroke-width="0.18">Fiction</text>
<rect x="507.8" y="104.28" width="22.20" height="24.25" fill="#fff"/>
<line x1="509.9" x2="528.1" y1="116.60" y2="116.60" stroke="#9A169E" stroke-width="3.0"/>
<ellipse cx="519" cy="116.40" rx="3.05" ry="3.25" fill="#9A169E"/>
<text transform="translate(537.3,121.50) scale(1,1.04)" font-family="Liberation Sans" font-size="12.75" fill="#000" stroke="#000" stroke-width="0.18">History &amp; geography</text>
<rect x="507.8" y="127.32" width="22.20" height="24.25" fill="#fff"/>
<line x1="509.9" x2="528.1" y1="139.65" y2="139.65" stroke="#1C9DCB" stroke-width="3.0"/>
<ellipse cx="519" cy="139.45" rx="3.05" ry="3.25" fill="#1C9DCB"/>
<text transform="translate(537.3,144.55) scale(1,1.04)" font-family="Liberation Sans" font-size="12.75" fill="#000" stroke="#000" stroke-width="0.18">Language</text>
<rect x="507.8" y="150.38" width="22.20" height="24.25" fill="#fff"/>
<line x1="509.9" x2="528.1" y1="162.70" y2="162.70" stroke="#DC4380" stroke-width="3.0"/>
<ellipse cx="519" cy="162.50" rx="3.05" ry="3.25" fill="#DC4380"/>
<text transform="translate(537.3,167.60) scale(1,1.04)" font-family="Liberation Sans" font-size="12.75" fill="#000" stroke="#000" stroke-width="0.18">Miscellaneous literature</text>
<rect x="507.8" y="173.42" width="22.20" height="24.25" fill="#fff"/>
<line x1="509.9" x2="528.1" y1="185.75" y2="185.75" stroke="#63AD0C" stroke-width="3.0"/>
<ellipse cx="519" cy="185.55" rx="3.05" ry="3.25" fill="#63AD0C"/>
<text transform="translate(537.3,190.65) scale(1,1.04)" font-family="Liberation Sans" font-size="12.75" fill="#000" stroke="#000" stroke-width="0.18">Other</text>
<text transform="translate(63.8,368.25) scale(1,1.095)" text-anchor="end" font-family="Liberation Sans" font-size="12.8" fill="#4D4D4D" stroke="#4D4D4D" stroke-width="0.2">0.0%</text>
<text transform="translate(63.8,268.25) scale(1,1.095)" text-anchor="end" font-family="Liberation Sans" font-size="12.8" fill="#4D4D4D" stroke="#4D4D4D" stroke-width="0.2">20.0%</text>
<text transform="translate(63.8,168.25) scale(1,1.095)" text-anchor="end" font-family="Liberation Sans" font-size="12.8" fill="#4D4D4D" stroke="#4D4D4D" stroke-width="0.2">40.0%</text>
<text transform="translate(63.8,68.25) scale(1,1.095)" text-anchor="end" font-family="Liberation Sans" font-size="12.8" fill="#4D4D4D" stroke="#4D4D4D" stroke-width="0.2">60.0%</text>
<g transform="translate(146.09,420.9) scale(1,1.14)"><text text-anchor="middle" font-family="Liberation Sans" font-size="12.8" fill="#4D4D4D" stroke="#4D4D4D" stroke-width="0.2">1500</text><rect x="-14.2" y="-2.1" width="3.1" height="2.45" fill="#fff"/><rect x="-9.76" y="-2.1" width="2.85" height="2.45" fill="#fff"/></g>
<g transform="translate(315.38,420.9) scale(1,1.14)"><text text-anchor="middle" font-family="Liberation Sans" font-size="12.8" fill="#4D4D4D" stroke="#4D4D4D" stroke-width="0.2">1600</text><rect x="-14.2" y="-2.1" width="3.1" height="2.45" fill="#fff"/><rect x="-9.76" y="-2.1" width="2.85" height="2.45" fill="#fff"/></g>
<g transform="translate(484.67,420.9) scale(1,1.14)"><text text-anchor="middle" font-family="Liberation Sans" font-size="12.8" fill="#4D4D4D" stroke="#4D4D4D" stroke-width="0.2">1700</text><rect x="-14.2" y="-2.1" width="3.1" height="2.45" fill="#fff"/><rect x="-9.76" y="-2.1" width="2.85" height="2.45" fill="#fff"/></g>
<g transform="translate(653.96,420.9) scale(1,1.14)"><text text-anchor="middle" font-family="Liberation Sans" font-size="12.8" fill="#4D4D4D" stroke="#4D4D4D" stroke-width="0.2">1800</text><rect x="-14.2" y="-2.1" width="3.1" height="2.45" fill="#fff"/><rect x="-9.76" y="-2.1" width="2.85" height="2.45" fill="#fff"/></g>
<text transform="translate(347.94,442.74) scale(1,1.056)" font-family="Liberation Sans" font-size="15.33" fill="#000" stroke="#000" stroke-width="0.22">Decade</text>
<text transform="translate(14.6,241.8) rotate(-90) scale(1,1.013)" font-family="Liberation Sans" font-size="15.8" fill="#000" stroke="#000" stroke-width="0.22">Share (%)</text>
</svg>
</body></html>
